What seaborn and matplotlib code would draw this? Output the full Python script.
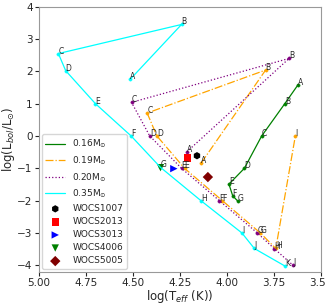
import seaborn as sns
import pandas as pd
import matplotlib.pyplot as plt

# evolutionary tracks (log Teff, log L) with point labels
teff_016 = [3.622, 3.693, 3.816, 3.908, 3.990, 3.970, 3.942]
lum_016 = [1.59, 1.00, 0.00, -1.00, -1.49, -1.85, -2.02]
lab_016 = ['A', 'B', 'C', 'D', 'E', 'F', 'G']

teff_019 = [4.137, 3.795, 4.425, 4.373, 4.226, 4.025, 3.823, 3.741, 3.637]
lum_019 = [-0.83, 2.04, 0.71, 0.00, -1.00, -2.00, -3.00, -3.48, 0.00]
lab_019 = ['A', 'B', 'C', 'D', 'E', 'F', 'G', 'H', 'I']

teff_020 = [4.214, 3.670, 4.508, 4.411, 4.242, 4.041, 3.839, 3.748, 3.649]
lum_020 = [-0.49, 2.40, 1.04, 0.00, -1.00, -2.00, -3.00, -3.49, -4.00]
lab_020 = ['A', 'B', 'C', 'D', 'E', 'F', 'G', 'H', 'J']

teff_035 = [4.514, 4.242, 4.897, 4.858, 4.700, 4.510, 4.354, 4.139, 3.921, 3.855, 3.693]
lum_035 = [1.76, 3.45, 2.55, 2.02, 1.00, 0.00, -0.97, -2.00, -3.00, -3.48, -4.02]
lab_035 = ['A', 'B', 'C', 'D', 'E', 'F', 'G', 'H', 'I', 'J', 'K']

# observed stars
stars = ['WOCS1007', 'WOCS2013', 'WOCS3013', 'WOCS4006', 'WOCS5005']
star_teff = [4.160, 4.212, 4.283, 4.354, 4.102]
star_lum = [-0.61, -0.68, -1.01, -0.98, -1.27]

sns.set_style('ticks', {'axes.edgecolor': '0.6'})
fig, ax = plt.subplots(figsize=(3.25, 3.04), dpi=100)

tracks = [
    (teff_016, lum_016, lab_016, 'green', '-', r'0.16M$_{\odot}$'),
    (teff_019, lum_019, lab_019, 'orange', '-.', r'0.19M$_{\odot}$'),
    (teff_020, lum_020, lab_020, 'purple', ':', r'0.20M$_{\odot}$'),
    (teff_035, lum_035, lab_035, 'cyan', '-', r'0.35M$_{\odot}$'),
]
for t, l, labs, c, ls, name in tracks:
    df = pd.DataFrame({'teff': t, 'lum': l})
    sns.lineplot(data=df, x='teff', y='lum', sort=False, color=c,
                 linestyle=ls, lw=0.9, label=name, ax=ax)
    sns.scatterplot(data=df, x='teff', y='lum', color=c, s=6,
                    edgecolor=c, legend=False, ax=ax)
    for xi, yi, s in zip(t, l, labs):
        ax.text(xi, yi, s, fontsize=5.5)

markers = ['h', 's', '>', 'v', 'D']
colors = ['black', 'red', 'blue', 'green', 'maroon']
for name, xi, yi, m, c in zip(stars, star_teff, star_lum, markers, colors):
    sns.scatterplot(x=[xi], y=[yi], marker=m, color=c, s=28,
                    edgecolor='none', label=name, ax=ax)

ax.set_xlim(5.0, 3.5)
ax.set_ylim(-4.2, 4.0)
ax.set_xticks([5.0, 4.75, 4.5, 4.25, 4.0, 3.75, 3.5])
ax.set_yticks(range(-4, 5))
ax.tick_params(labelsize=7.5, length=3, width=0.8, pad=1.5)
ax.set_xlabel(r'log(T$_{eff}$ (K))', fontsize=8.5, labelpad=0)
ax.set_ylabel(r'log(L$_{bol}$/L$_{\odot}$)', fontsize=8.5, labelpad=0)
ax.legend(loc='lower left', fontsize=6.5, handlelength=2.2,
          borderaxespad=0.3, labelspacing=0.45)

fig.subplots_adjust(left=0.12, right=0.988, top=0.978, bottom=0.106)
fig.savefig('out.png', dpi=100)
